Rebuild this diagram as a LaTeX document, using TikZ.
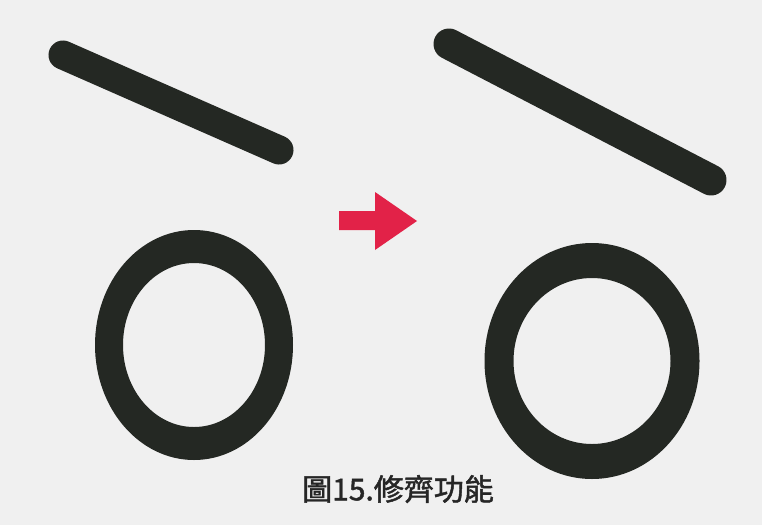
\documentclass[tikz,border=0pt]{standalone}
\usepackage{fontspec}
\usepackage{xcolor}
\newfontfamily\cjkfont{Noto Sans CJK TC}[AutoFakeBold=1.5]
\definecolor{inkdark}{RGB}{36,40,35}
\definecolor{arrowred}{RGB}{226,34,72}
\definecolor{paper}{RGB}{240,240,240}

\begin{document}
\begin{tikzpicture}[x=1pt, y=-1pt, every node/.style={font=\cjkfont\bfseries}]
  % Stroke and ring before (left) and after (right) trimming.
  \fill[paper] (0,0) rectangle (762,525);
  \useasboundingbox (0,0) rectangle (762,525);
  \coordinate (a1) at (63,55);
  \coordinate (a2) at (279,150);
  \coordinate (b1) at (449,44);
  \coordinate (b2) at (711,180);
  \coordinate (ca) at (194,345);
  \coordinate (cb) at (592,361);
  \draw[inkdark, line width=29, line cap=round] (a1)--(a2);
  \draw[inkdark, line width=31, line cap=round] (b1)--(b2);
  \fill[inkdark, even odd rule] (ca) ellipse [x radius=99, y radius=115]
    (ca) ellipse [x radius=71, y radius=82];
  \fill[inkdark, even odd rule] (cb) ellipse [x radius=107.5, y radius=118]
    (cb) ellipse [x radius=78.5, y radius=83];
  \fill[arrowred] (339,211) -- (375,211) -- (375,192) -- (417,221)
    -- (375,250) -- (375,230) -- (339,230) -- cycle;
  \node[text=black!85] (cap) at (398,489) {\fontsize{30}{32}\selectfont 圖15.修齊功能};
\end{tikzpicture}
\end{document}
